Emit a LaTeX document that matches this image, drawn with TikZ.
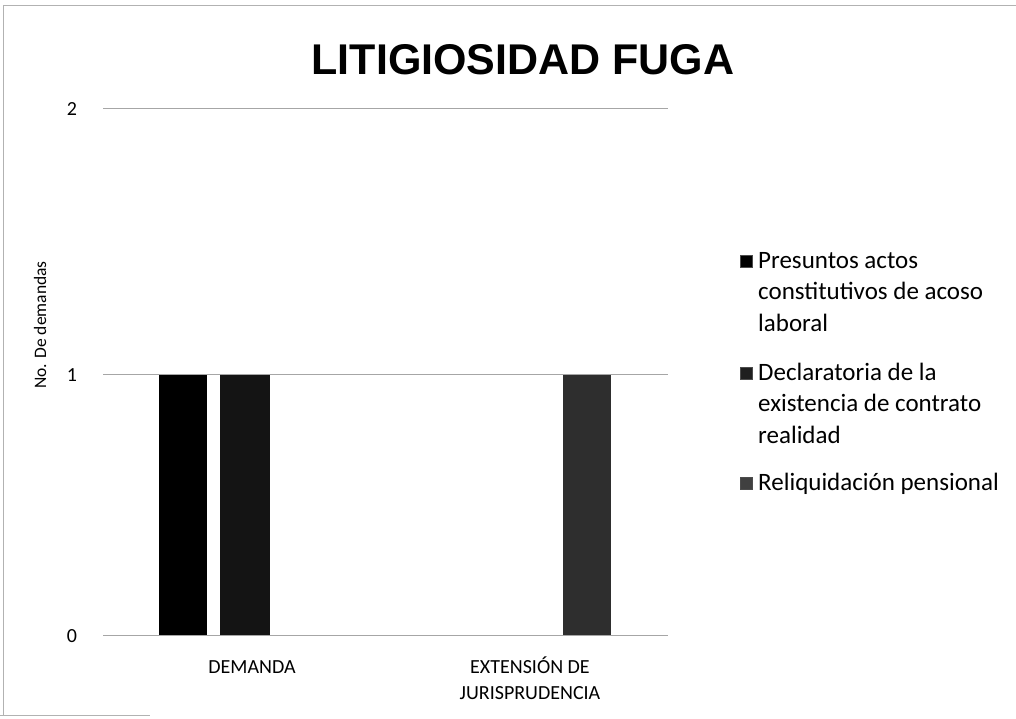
\documentclass[tikz,border=0pt]{standalone}
\usepackage{fontspec}
\setmainfont{Carlito}
\newfontfamily\titlefont{Liberation Sans}
\begin{document}
\begin{tikzpicture}[x=1pt,y=-1pt,
  grid/.style={gray!70,line width=0.7pt},
  frame/.style={gray!60,line width=0.8pt},
  bara/.style={fill=black},
  barb/.style={fill=black!92},
  barc/.style={fill=black!82},
  tick/.style={font=\fontsize{20}{24}\selectfont,inner sep=0pt},
  cat/.style={font=\fontsize{20}{25}\selectfont,anchor=base,inner sep=0pt},
  leg/.style={font=\fontsize{25}{31.5}\selectfont,anchor=base west,inner sep=0pt},
  legbox/.style={minimum size=12pt,inner sep=0pt,draw=black!70,line width=0.4pt}]
\useasboundingbox (0,0) rectangle (1016,719);
% frame
\draw[frame] (3,5) -- (1016,5);
\draw[frame] (3,5) -- (3,715);
\draw[frame] (0,715) -- (150,715);
% title
\node[font=\titlefont\bfseries\fontsize{43}{48}\selectfont,inner sep=0pt] (title) at (523,60) {LITIGIOSIDAD FUGA};
% gridlines
\draw[grid] (103,108) -- (668,108);
\draw[grid] (103,374) -- (668,374);
\draw[grid] (103,635) -- (668,635);
% tick labels
\node[tick] (t2) at (72,109) {2};
\node[tick] (t1) at (72,375) {1};
\node[tick] (t0) at (72,636) {0};
% axis title
\node[font=\fontsize{17.5}{20}\selectfont,rotate=90,inner sep=0pt] (ytitle) at (40,325) {No. De demandas};
% bars
\fill[bara] (159,375) rectangle (207,635);
\fill[barb] (220,375) rectangle (270,635);
\fill[barc] (563,375) rectangle (611,635);
% category labels
\node[cat] (c1) at (252,673) {DEMANDA};
\node[cat] (c2a) at (530,673) {EXTENSIÓN DE};
\node[cat] (c2b) at (530,699) {JURISPRUDENCIA};
% legend
\node[legbox,fill=black] (l1) at (746,261) {};
\node[legbox,fill=black!88] (l2) at (746,373) {};
\node[legbox,fill=black!75] (l3) at (746,483) {};
\node[leg] (lt1) at (758,268) {\begin{tabular}[t]{@{}l@{}}Presuntos actos\\constitutivos de acoso\\laboral\end{tabular}};
\node[leg] (lt2) at (758,380) {\begin{tabular}[t]{@{}l@{}}Declaratoria de la\\existencia de contrato\\realidad\end{tabular}};
\node[leg] (lt3) at (758,490) {Reliquidación pensional};
\end{tikzpicture}
\end{document}
